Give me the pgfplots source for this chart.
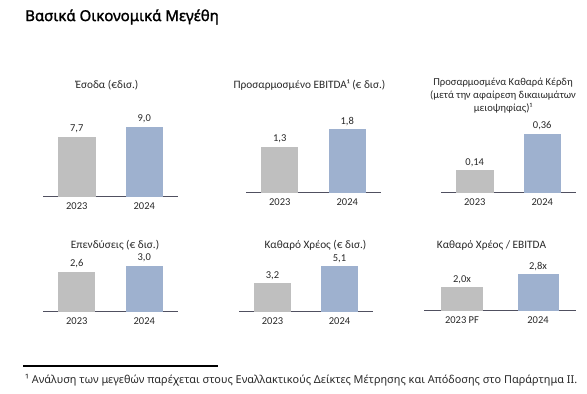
\documentclass[border=0pt]{standalone}
\usepackage{fontspec}
\setmainfont{Carlito}
\newfontfamily\notosans{Noto Sans}
\newfontfamily\notosanstitle{Noto Sans}[FakeBold=1.6]
\usepackage{pgfplots}
\pgfplotsset{compat=1.18}
\definecolor{bargray}{RGB}{191,191,191}
\definecolor{barblue}{RGB}{158,177,207}
\definecolor{axisline}{RGB}{80,80,96}
\definecolor{txt}{RGB}{40,40,40}
\pgfplotsset{
  minibar/.style={
    scale only axis,
    anchor=south west,
    axis x line*=bottom,
    axis y line=none,
    x axis line style={axisline, line width=1pt},
    xtick={0,1},
    major tick length=0pt,
    ytick=\empty,
    xmin=-0.5, xmax=1.5, ymin=0,
    clip=false,
    xticklabel style={font=\fontsize{10.5}{12}\selectfont, text=txt, yshift=-2.5pt},
    every node near coord/.append style={font=\fontsize{10.5}{12}\selectfont, text=txt, anchor=base, yshift=5pt},
  },
  gbar/.style={ybar, bar shift=0pt, fill=bargray, draw=none, nodes near coords, point meta=explicit symbolic},
  bbar/.style={ybar, bar shift=0pt, fill=barblue, draw=none, nodes near coords, point meta=explicit symbolic},
}
\begin{document}
\begin{tikzpicture}[x=1pt,y=1pt]
\useasboundingbox (0,0) rectangle (587,394);
% Panel 1
\begin{axis}[minibar, at={(43pt,197pt)}, width=135pt, height=80pt, ymax=10.256, xticklabels={2023,2024}]
\addplot[gbar, bar width=38pt] coordinates {(0,7.7) [7,7]};
\addplot[bbar, bar width=37pt] coordinates {(1,9.0) [9,0]};
\end{axis}
% Panel 2
\begin{axis}[minibar, at={(246pt,201pt)}, width=135pt, height=80pt, ymax=2.254, xticklabels={2023,2024}]
\addplot[gbar, bar width=37pt] coordinates {(0,1.3) [1,3]};
\addplot[bbar, bar width=37pt] coordinates {(1,1.8) [1,8]};
\end{axis}
% Panel 3
\begin{axis}[minibar, at={(441pt,201pt)}, width=135pt, height=80pt, ymax=0.4878, xticklabels={2023,2024}]
\addplot[gbar, bar width=38pt] coordinates {(0,0.14) [0,14]};
\addplot[bbar, bar width=37pt] coordinates {(1,0.36) [0,36]};
\end{axis}
% Panel 4
\begin{axis}[minibar, at={(43pt,82pt)}, width=135pt, height=60pt, ymax=3.896, xticklabels={2023,2024}]
\addplot[gbar, bar width=37pt] coordinates {(0,2.6) [2,6]};
\addplot[bbar, bar width=37pt] coordinates {(1,3.0) [3,0]};
\end{axis}
% Panel 5
\begin{axis}[minibar, at={(239pt,82pt)}, width=134pt, height=60pt, ymax=6.667, xticklabels={2023,2024}]
\addplot[gbar, bar width=37pt] coordinates {(0,3.2) [3,2]};
\addplot[bbar, bar width=37pt] coordinates {(1,5.1) [5,1]};
\end{axis}
% Panel 6
\begin{axis}[minibar, at={(424pt,83pt)}, width=152pt, height=60pt, ymin=0.6, ymax=4.171, xticklabels={2023 PF,2024}]
\addplot[gbar, bar width=42pt] coordinates {(0,2.0) [2,0x]};
\addplot[bbar, bar width=41pt] coordinates {(1,2.8) [2,8x]};
\end{axis}
% Panel titles
\begin{scope}[every node/.style={font=\fontsize{11.3}{13}\selectfont, text=txt, inner sep=0pt}]
\node at (107,309) {Έσοδα (€δισ.)};
\node at (309.5,309) {Προσαρμοσμένο EBITDA¹ (€ δισ.)};
\node[align=center, font=\fontsize{10.6}{13}\selectfont] at (503,298) {Προσαρμοσμένα Καθαρά Κέρδη\\(μετά την αφαίρεση δικαιωμάτων\\μειοψηφίας)¹};
\node at (115,149) {Επενδύσεις (€ δισ.)};
\node at (315.5,149) {Καθαρό Χρέος (€ δισ.)};
\node at (491.5,149) {Καθαρό Χρέος / EBITDA};
\end{scope}
% Main title
\node[anchor=west, inner sep=0pt, font=\notosanstitle\fontsize{15}{17}\selectfont] at (25,377) {Βασικά Οικονομικά Μεγέθη};
% Footnote
\draw[line width=2pt] (23,28) -- (218,28);
\node[anchor=west, inner sep=0pt, text=txt, font=\notosans\fontsize{10.9}{12}\selectfont] at (25,14) {¹ Ανάλυση των μεγεθών παρέχεται στους Εναλλακτικούς Δείκτες Μέτρησης και Απόδοσης στο Παράρτημα II.};
\end{tikzpicture}
\end{document}
